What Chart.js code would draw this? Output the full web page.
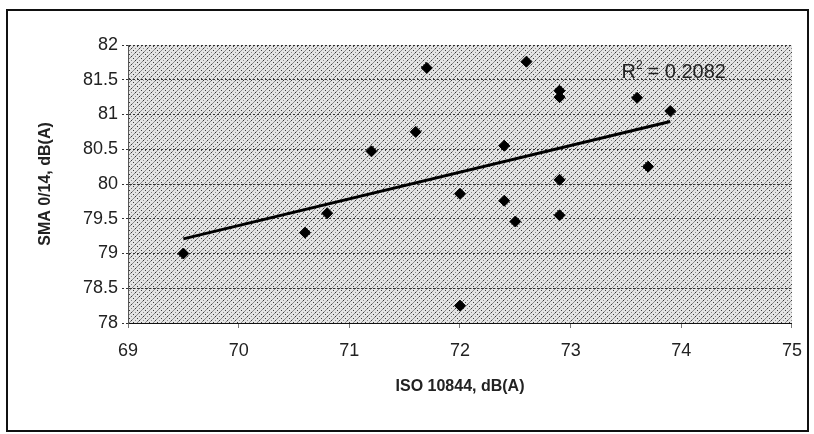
<!DOCTYPE html>
<html>
<head>
<meta charset="utf-8">
<script src="https://cdn.jsdelivr.net/npm/chart.js@4/dist/chart.umd.min.js"></script>
<style>
    html, body { margin: 0; padding: 0; background: #fff; }
    #chartBox { width: 814px; height: 434px; }
</style>
</head>
<body>
<div id="chartBox"><canvas id="scatterChartElem"></canvas></div>
<script>
// Values
const isoValues = [69.5, 70.6, 70.8, 71.2, 71.6, 71.7, 72.0, 72.0, 72.4, 72.4, 72.5, 72.6, 72.9, 72.9, 72.9, 72.9, 73.6, 73.7, 73.9];
const smaValues = [79.0, 79.3, 79.58, 80.47, 80.75, 81.67, 79.86, 78.25, 80.55, 79.76, 79.46, 81.76, 81.34, 81.25, 80.06, 79.55, 81.24, 80.25, 81.05];
const trendX = [69.5, 73.9];
const trendY = [79.21, 80.90];
const r2Text = '0.2082';
const xTitle = 'ISO 10844, dB(A)';
const yTitle = 'SMA 0/14, dB(A)';

const toPoints = (xs, ys) => xs.map((x, i) => ({ x: x, y: ys[i] }));

// Hatched grey fill for the plot area (short "/" dashes, a bit speckled)
const makeHatch = () => {
    const tile = document.createElement('canvas');
    tile.width = 8;
    tile.height = 8;
    const c = tile.getContext('2d');
    c.fillStyle = '#e4e4e4';
    c.fillRect(0, 0, 8, 8);
    const grey = [[0, 3], [1, 2], [2, 1], [4, 7], [5, 6], [6, 5], [3, 4], [7, 0]];
    const dark = [[3, 0], [7, 4], [1, 6], [5, 2]];
    c.fillStyle = '#8a8a8a';
    grey.forEach(([x, y]) => c.fillRect(x, y, 1, 1));
    c.fillStyle = '#3a3a3a';
    dark.forEach(([x, y]) => c.fillRect(x, y, 1, 1));
    return tile;
};

const framePlugin = {
    id: 'frame',
    beforeDraw(chart) {
        const { ctx, chartArea: a } = chart;
        ctx.save();
        ctx.fillStyle = '#fff';
        ctx.fillRect(0, 0, chart.width, chart.height);
        ctx.strokeStyle = '#111';
        ctx.lineWidth = 2;
        ctx.strokeRect(7, 10, 801, 421);
        ctx.fillStyle = ctx.createPattern(makeHatch(), 'repeat');
        ctx.fillRect(a.left, a.top, a.right - a.left, a.bottom - a.top);
        ctx.restore();
    },
    afterDatasetsDraw(chart) {
        const { ctx, scales } = chart;
        const x = scales.x.getPixelForValue(73.46);
        const y = scales.y.getPixelForValue(81.52);
        ctx.save();
        ctx.fillStyle = '#222';
        ctx.textBaseline = 'alphabetic';
        ctx.font = '20px "Liberation Sans", Arial, sans-serif';
        ctx.fillText('R', x, y);
        const w = ctx.measureText('R').width;
        ctx.font = '12px "Liberation Sans", Arial, sans-serif';
        ctx.fillText('2', x + w, y - 9);
        ctx.font = '20px "Liberation Sans", Arial, sans-serif';
        ctx.fillText(' = ' + r2Text, x + w + 6, y);
        ctx.restore();
    }
};

const tickFont = { family: '"Liberation Sans", Arial, sans-serif', size: 18 };
const titleFont = { family: '"Liberation Sans", Arial, sans-serif', size: 16, weight: 'bold' };

const scatterChartElem = document.getElementById('scatterChartElem');
const scatterChart = new Chart(scatterChartElem, {
    type: 'scatter',
    data: {
        datasets: [{
            label: 'trend',
            type: 'line',
            data: toPoints(trendX, trendY),
            borderColor: '#000',
            borderWidth: 3,
            pointRadius: 0,
            fill: false
        }, {
            label: 'SMA',
            data: toPoints(isoValues, smaValues),
            pointStyle: 'rectRot',
            pointRadius: 5.5,
            backgroundColor: '#000',
            borderColor: '#000',
            borderWidth: 1
        }]
    },
    options: {
        responsive: true,
        maintainAspectRatio: false,
        animation: false,
        layout: { padding: { top: 45, right: 21, left: 0, bottom: 0 } },
        plugins: {
            legend: { display: false },
            tooltip: { enabled: false }
        },
        scales: {
            x: {
                type: 'linear',
                min: 69,
                max: 75,
                ticks: { stepSize: 1, color: '#222', font: tickFont, padding: 12 },
                grid: { drawOnChartArea: false, drawTicks: true, tickLength: 5, color: '#777' },
                border: { display: true, color: '#111', width: 1 },
                title: { display: true, text: xTitle, color: '#222', font: titleFont, padding: { top: 0, bottom: 38 } },
                afterFit: (scale) => { scale.height = 111; }
            },
            y: {
                min: 78,
                max: 82,
                ticks: {
                    stepSize: 0.5,
                    color: '#222',
                    font: tickFont,
                    padding: 4,
                    callback: (v) => String(Math.round(v * 10) / 10)
                },
                grid: { color: '#333', lineWidth: 1, tickLength: 6, tickBorderDash: [2, 2] },
                border: { display: true, color: '#555', width: 1, dash: [2, 2] },
                title: { display: true, text: yTitle, color: '#222', font: titleFont, padding: { top: 36, bottom: 0 } },
                afterFit: (scale) => { scale.width = 128; }
            }
        }
    },
    plugins: [framePlugin]
});
</script>
</body>
</html>
